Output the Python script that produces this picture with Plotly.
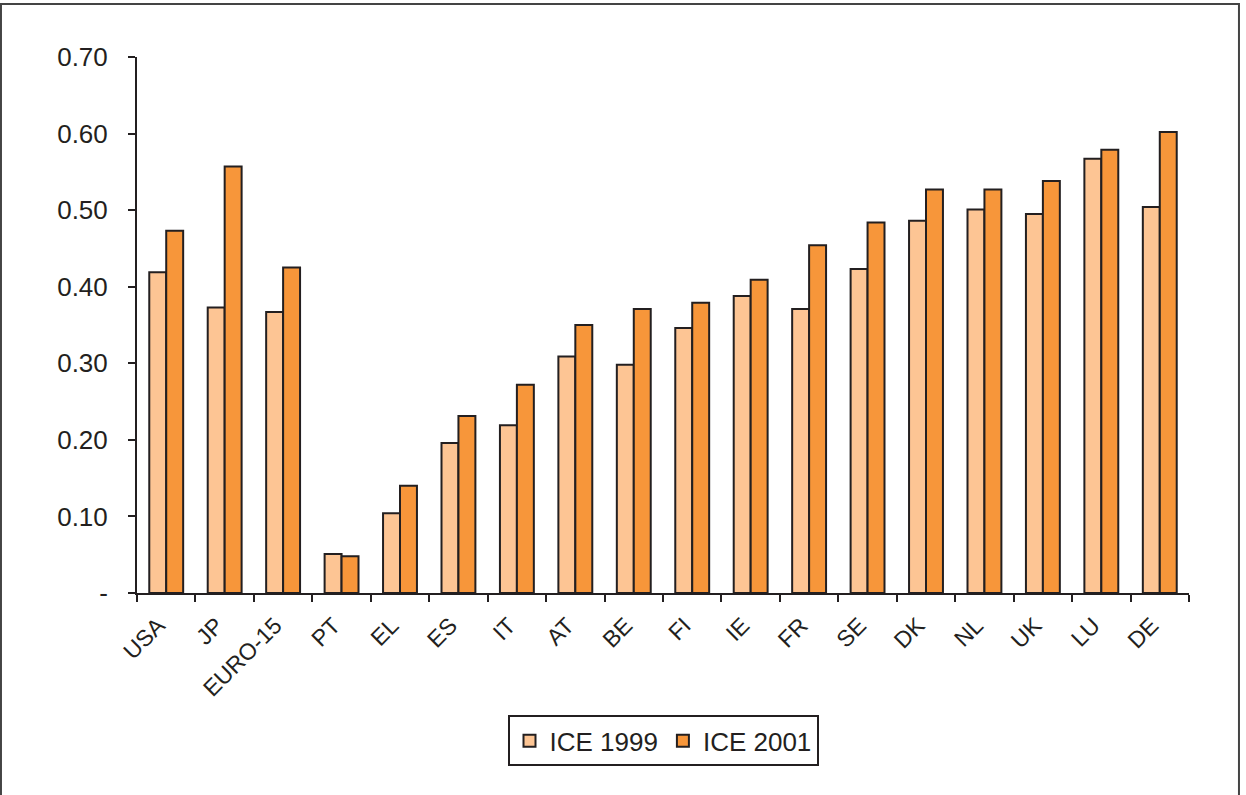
import plotly.graph_objects as go

countries = ["USA", "JP", "EURO-15", "PT", "EL", "ES", "IT", "AT", "BE",
             "FI", "IE", "FR", "SE", "DK", "NL", "UK", "LU", "DE"]
ice_1999 = [0.419, 0.373, 0.367, 0.051, 0.104, 0.196, 0.219, 0.309, 0.298,
            0.346, 0.388, 0.371, 0.423, 0.486, 0.501, 0.495, 0.567, 0.504]
ice_2001 = [0.473, 0.557, 0.425, 0.048, 0.140, 0.231, 0.272, 0.350, 0.371,
            0.379, 0.409, 0.454, 0.484, 0.527, 0.527, 0.538, 0.579, 0.602]

y_ticks = [0, 0.1, 0.2, 0.3, 0.4, 0.5, 0.6, 0.7]
y_ticktext = ["-", "0.10", "0.20", "0.30", "0.40", "0.50", "0.60", "0.70"]

INK = "#231f20"
FONT = "Liberation Sans, Arial, sans-serif"

fig = go.Figure()
fig.add_trace(go.Bar(name="ICE 1999", x=countries, y=ice_1999,
                     marker=dict(color="#fdc594", line=dict(color=INK, width=2))))
fig.add_trace(go.Bar(name="ICE 2001", x=countries, y=ice_2001,
                     marker=dict(color="#f7963a", line=dict(color=INK, width=2))))

n = len(countries)
boundaries = [i - 0.5 for i in range(n + 1)]

fig.update_layout(
    width=1246, height=795,
    margin=dict(l=137, r=57, t=57, b=202),
    paper_bgcolor="white", plot_bgcolor="white",
    barmode="group", bargap=0.42, bargroupgap=0,
    font=dict(family=FONT, color=INK, size=26),
    showlegend=True,
    legend=dict(orientation="h", x=0.5, xanchor="center", y=-0.276, yanchor="middle",
                bordercolor=INK, borderwidth=2, font=dict(size=26),
                itemwidth=30, tracegroupgap=0),
    xaxis=dict(type="category", showline=True, linecolor=INK, linewidth=2,
               ticks="outside", tickson="boundaries", ticklen=7, tickwidth=2,
               tickcolor=INK, tickangle=-45, tickfont=dict(size=23),
               ticklabelshift=-8, ticklabelstandoff=8,
               showgrid=False, zeroline=False),
    yaxis=dict(range=[0, 0.7], tickvals=y_ticks, ticktext=y_ticktext,
               showline=True, linecolor=INK, linewidth=2,
               ticks="outside", ticklen=7, tickwidth=2, tickcolor=INK,
               ticklabelstandoff=15, tickfont=dict(size=26),
               showgrid=False, zeroline=False),
    # companion axes give the ticks their inner half so they cross the axis lines
    xaxis2=dict(overlaying="x", range=[-0.5, n - 0.5], tickvals=boundaries,
                showticklabels=False, ticks="inside", ticklen=7, tickwidth=2,
                tickcolor=INK, showline=False, showgrid=False, zeroline=False,
                side="bottom"),
    yaxis2=dict(overlaying="y", range=[0, 0.7], tickvals=y_ticks,
                showticklabels=False, ticks="inside", ticklen=7, tickwidth=2,
                tickcolor=INK, showline=False, showgrid=False, zeroline=False,
                side="left"),
    shapes=[dict(type="rect", xref="paper", yref="paper",
                 x0=-0.1293, x1=1.0475, y0=-0.6, y1=1.099,
                 line=dict(color="#444444", width=2), layer="below")],
)

fig.write_html("out.html")
